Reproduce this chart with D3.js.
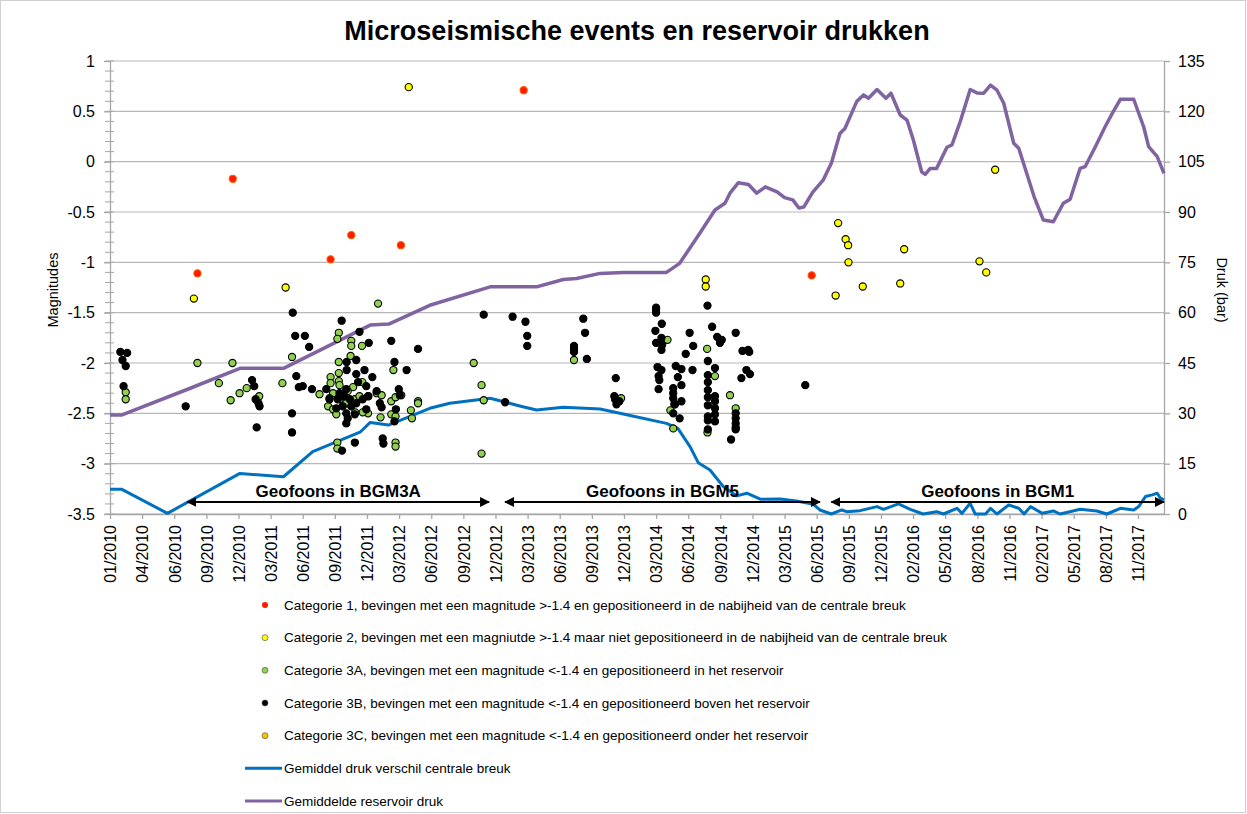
<!DOCTYPE html>
<html lang="nl">
<head>
<meta charset="UTF-8">
<title>Microseismische events en reservoir drukken</title>
<script src="https://cdn.jsdelivr.net/npm/d3@7"></script>
<style>
    body{ margin:0; background:#fff; }
    svg{ font-family:"Liberation Sans", Arial, sans-serif; }
    .as text{ font-size:16px; fill:#000; }
</style>
</head>
<body>
<script type="text/javascript">

// x tick labels (every 90 days from 01-01-2010)
var tickLabels = ["01/2010","04/2010","06/2010","09/2010","12/2010","03/2011","06/2011","09/2011","12/2011",
    "03/2012","06/2012","09/2012","12/2012","03/2013","06/2013","09/2013","12/2013","03/2014","06/2014",
    "09/2014","12/2014","03/2015","06/2015","09/2015","12/2015","02/2016","05/2016","08/2016","11/2016",
    "02/2017","05/2017","08/2017","11/2017"];
var magTicks = [1, 0.5, 0, -0.5, -1, -1.5, -2, -2.5, -3, -3.5];
var drukTicks = [0, 15, 30, 45, 60, 75, 90, 105, 120, 135];

// events: [datum, magnitude]
var cat1 = [["2010-09-03",-1.11],["2010-12-11",-0.17],["2011-09-11",-0.97],["2011-11-08",-0.73],
    ["2012-03-26",-0.83],["2013-03-05",0.71],["2015-05-21",-1.13]];

var cat2 = [["2010-08-24",-1.36],["2011-05-08",-1.25],["2012-04-17",0.74],["2014-07-28",-1.17],["2014-07-28",-1.24],
    ["2015-08-03",-0.61],["2015-08-24",-0.77],["2015-08-31",-0.83],["2015-09-01",-1.0],["2015-07-27",-1.33],
    ["2015-10-11",-1.24],["2016-01-24",-1.21],["2016-02-04",-0.87],["2016-09-02",-0.99],["2016-09-21",-1.10],
    ["2016-10-16",-0.08]];

var cat3A = [["2010-02-14",-2.29],["2010-02-14",-2.36],["2010-09-03",-2.0],["2010-12-10",-2.0],["2010-11-02",-2.2],
    ["2010-12-05",-2.37],["2010-12-30",-2.3],["2011-01-19",-2.25],["2011-02-23",-2.33],["2011-04-29",-2.2],
    ["2011-05-26",-1.94],["2011-10-04",-1.7],["2011-09-30",-1.76],["2011-11-08",-1.78],["2011-11-08",-1.83],
    ["2011-12-08",-1.83],["2012-01-22",-1.41],["2012-03-05",-2.07],
    ["2011-10-04",-1.99],["2011-10-04",-2.10],["2011-09-11",-2.14],["2011-10-04",-2.18],["2011-10-06",-2.22],
    ["2011-09-11",-2.2],["2011-11-06",-1.93],["2011-12-09",-2.19],["2011-11-13",-2.24],["2011-10-29",-2.28],
    ["2011-09-18",-2.3],["2011-08-11",-2.31],["2011-09-04",-2.43],["2011-09-08",-2.35],["2011-09-18",-2.46],
    ["2011-09-27",-2.51],["2011-10-06",-2.36],["2011-10-25",-2.4],["2011-11-18",-2.36],["2011-12-01",-2.33],
    ["2011-12-26",-2.33],["2012-01-18",-2.3],["2012-02-01",-2.32],["2011-12-25",-2.5],["2011-12-10",-2.49],
    ["2011-11-19",-2.49],["2012-01-29",-2.54],["2012-02-28",-2.38],["2012-03-11",-2.34],["2012-03-27",-2.32],
    ["2012-02-28",-2.51],["2012-03-11",-2.53],["2012-03-11",-2.79],["2012-03-11",-2.83],["2012-04-23",-2.47],
    ["2012-04-26",-2.55],["2012-05-13",-2.38],["2012-05-13",-2.4],["2011-09-30",-2.79],["2011-09-30",-2.85],
    ["2012-10-16",-2.0],["2012-11-07",-2.22],["2012-11-13",-2.37],["2012-11-07",-2.9],["2013-07-24",-1.97],
    ["2013-12-03",-2.35],["2014-04-12",-1.77],["2014-05-01",-2.41],["2014-04-20",-2.47],["2014-04-28",-2.65],
    ["2014-08-01",-1.86],["2014-08-23",-2.13],["2014-08-02",-2.69],["2014-10-04",-2.32],["2014-10-20",-2.45]];

var cat3B = [["2010-01-30",-1.89],["2010-02-18",-1.90],["2010-02-05",-1.97],["2010-02-14",-2.03],["2010-02-08",-2.23],
    ["2010-08-01",-2.43],["2011-02-03",-2.17],["2011-02-09",-2.23],["2011-02-13",-2.36],["2011-02-21",-2.40],
    ["2011-02-24",-2.43],["2011-02-16",-2.64],["2011-05-28",-1.50],["2011-06-04",-1.73],["2011-07-01",-1.73],
    ["2011-07-13",-1.84],["2011-06-07",-2.13],["2011-06-14",-2.24],["2011-06-25",-2.23],["2011-05-26",-2.50],
    ["2011-05-26",-2.69],["2011-07-21",-2.26],["2011-10-12",-1.58],["2011-12-01",-1.69],["2011-12-27",-1.80],
    ["2012-02-28",-1.78],["2012-05-13",-1.86],["2012-03-08",-1.99],["2012-04-11",-2.07],
    ["2011-10-26",-1.99],["2011-11-22",-1.97],["2011-10-26",-2.07],["2011-11-22",-2.11],["2011-12-15",-2.07],
    ["2012-01-06",-2.14],["2011-12-20",-2.23],["2011-11-27",-2.19],["2011-10-25",-2.26],["2011-10-06",-2.30],
    ["2011-08-30",-2.26],["2011-09-08",-2.36],["2011-10-01",-2.36],["2011-10-20",-2.33],["2011-11-04",-2.36],
    ["2011-11-22",-2.40],["2011-12-10",-2.36],["2011-12-25",-2.33],["2012-01-18",-2.28],["2012-01-27",-2.40],
    ["2012-02-01",-2.44],["2011-11-08",-2.43],["2011-10-15",-2.43],["2011-09-27",-2.45],["2011-10-25",-2.50],
    ["2011-10-29",-2.55],["2011-10-25",-2.60],["2011-11-18",-2.79],["2011-10-13",-2.87],["2012-02-04",-2.75],
    ["2012-02-06",-2.80],["2012-03-20",-2.26],["2012-03-23",-2.32],["2012-03-12",-2.46],["2012-03-08",-2.58],
    ["2011-11-18",-2.51],["2011-12-20",-2.46],
    ["2012-11-13",-1.52],["2013-01-12",-2.39],["2013-02-02",-1.54],["2013-03-10",-1.59],["2013-03-15",-1.73],
    ["2013-03-15",-1.83],["2013-08-19",-1.56],["2013-08-24",-1.70],["2013-07-24",-1.83],["2013-07-24",-1.86],
    ["2013-07-24",-1.89],["2013-08-29",-1.96],["2013-11-18",-2.15],["2013-11-14",-2.33],["2013-11-16",-2.36],
    ["2013-11-20",-2.41],["2013-11-28",-2.38],
    ["2014-03-11",-1.45],["2014-03-11",-1.47],["2014-03-11",-1.50],["2014-03-27",-1.61],["2014-03-09",-1.68],
    ["2014-03-26",-1.75],["2014-03-11",-1.80],["2014-03-28",-1.82],["2014-03-26",-1.87],["2014-03-15",-2.04],
    ["2014-03-26",-2.07],["2014-03-18",-2.13],["2014-03-20",-2.17],["2014-03-18",-2.26],
    ["2014-05-05",-2.03],["2014-05-21",-2.06],["2014-04-28",-2.25],["2014-04-28",-2.30],["2014-04-28",-2.35],
    ["2014-04-28",-2.50],["2014-05-03",-2.41],["2014-05-16",-2.55],["2014-05-11",-2.14],["2014-05-21",-2.22],
    ["2014-05-21",-2.38],["2014-06-13",-1.70],["2014-06-23",-1.83],["2014-06-02",-1.91],["2014-06-21",-2.07],
    ["2014-08-02",-1.43],["2014-08-15",-1.64],["2014-08-03",-1.98],["2014-08-03",-2.12],["2014-08-03",-2.19],
    ["2014-08-03",-2.27],["2014-08-03",-2.34],["2014-08-03",-2.42],["2014-08-03",-2.53],["2014-08-03",-2.57],
    ["2014-08-03",-2.66],["2014-08-23",-2.05],["2014-08-23",-2.33],["2014-08-23",-2.38],["2014-08-23",-2.45],
    ["2014-08-23",-2.51],["2014-08-23",-2.58],["2014-08-29",-1.74],["2014-09-11",-1.77],["2014-09-06",-1.80],
    ["2014-10-20",-1.70],["2014-11-08",-1.88],["2014-11-24",-1.87],["2014-11-27",-1.89],["2014-11-19",-2.07],
    ["2014-11-29",-2.11],["2014-11-05",-2.15],["2014-10-20",-2.50],["2014-10-20",-2.55],["2014-10-20",-2.60],
    ["2014-10-20",-2.64],["2014-10-20",-2.66],["2014-10-07",-2.76],["2015-05-03",-2.22]];

var cat3C = [];

// drukken: [datum, bar]
var breukDruk = [["2010-01-01",7.4],["2010-02-02",7.4],["2010-06-11",0.2],["2010-12-31",12.1],["2011-05-02",11.1],
    ["2011-07-23",18.6],["2011-12-04",24.5],["2011-12-31",27.3],["2012-02-20",26.5],["2012-06-15",31.5],
    ["2012-08-10",33.0],["2012-12-01",34.5],["2013-02-22",32.2],["2013-04-10",31.0],["2013-06-24",31.8],
    ["2013-10-05",31.3],["2013-12-09",29.8],["2014-04-09",27.0],["2014-05-11",25.5],["2014-06-14",20.1],
    ["2014-07-07",15.3],["2014-08-09",13.1],["2014-09-16",8.1],["2014-10-23",5.4],["2014-11-20",6.2],
    ["2014-12-28",4.4],["2015-02-22",4.5],["2015-04-08",3.9],["2015-05-24",3.0],["2015-06-13",1.2],
    ["2015-07-15",0],["2015-08-13",1.2],["2015-08-27",0.7],["2015-10-03",1.0],["2015-11-20",2.2],
    ["2015-12-08",1.4],["2016-01-19",3.0],["2016-02-21",1.4],["2016-03-28",0],["2016-05-05",0.7],
    ["2016-05-24",0],["2016-07-01",1.7],["2016-07-15",0.2],["2016-08-07",3.2],["2016-08-21",0],
    ["2016-09-19",0],["2016-10-03",1.7],["2016-10-21",0],["2016-11-23",2.7],["2016-12-21",1.7],
    ["2017-01-05",0],["2017-01-23",2.2],["2017-02-25",0.2],["2017-03-28",0.9],["2017-04-16",0],
    ["2017-06-11",1.4],["2017-07-28",0.9],["2017-08-25",0],["2017-10-02",1.7],["2017-11-08",1.2],
    ["2017-11-22",2.2],["2017-12-11",5.2],["2017-12-30",5.7],["2018-01-13",6.2],["2018-01-22",4.7],
    ["2018-02-01",4.2]];

var reservoirDruk = [["2010-01-01",29.5],["2010-02-02",29.5],["2010-08-12",37.4],["2010-12-31",43.4],
    ["2011-05-02",43.4],["2011-12-31",56.3],["2012-02-21",56.6],["2012-06-15",62.2],["2012-12-01",67.7],
    ["2013-04-10",67.7],["2013-06-24",69.9],["2013-07-31",70.2],["2013-10-05",71.7],["2013-12-09",72.0],
    ["2014-04-09",72.0],["2014-05-16",74.7],["2014-07-11",83.6],["2014-08-23",90.6],["2014-09-20",92.6],
    ["2014-10-04",95.6],["2014-10-27",98.7],["2014-11-25",98.2],["2014-12-18",95.6],["2015-01-11",97.5],
    ["2015-02-13",96.0],["2015-03-06",94.3],["2015-03-29",93.6],["2015-04-15",91.2],["2015-04-29",91.5],
    ["2015-05-24",95.9],["2015-06-22",99.5],["2015-07-15",104.5],["2015-08-08",113.4],["2015-08-22",114.9],
    ["2015-09-24",122.9],["2015-10-13",124.9],["2015-10-27",123.9],["2015-11-20",126.5],["2015-12-15",123.9],
    ["2015-12-29",125.4],["2016-01-24",118.9],["2016-02-12",117.4],["2016-03-01",111.4],["2016-03-24",102.0],
    ["2016-04-03",101.2],["2016-04-17",103.0],["2016-05-05",103.0],["2016-06-03",109.3],["2016-06-17",110.0],
    ["2016-07-10",116.9],["2016-08-07",126.5],["2016-08-26",125.5],["2016-09-14",125.4],["2016-10-03",127.8],
    ["2016-10-21",126.3],["2016-11-09",122.4],["2016-12-07",110.5],["2016-12-21",109.0],["2017-02-02",94.6],
    ["2017-02-28",87.6],["2017-03-28",87.1],["2017-04-25",92.6],["2017-05-14",93.8],["2017-06-11",103.0],
    ["2017-06-25",103.5],["2017-07-23",109.3],["2017-08-20",115.4],["2017-09-09",119.4],["2017-10-02",123.6],
    ["2017-11-08",123.6],["2017-12-06",115.4],["2017-12-20",109.5],["2018-01-13",106.5],["2018-02-01",101.5]];

// geofoon periodes
var periodLabels = ["Geofoons in BGM3A", "Geofoons in BGM5", "Geofoons in BGM1"];
var periodStart = ["2010-08-06", "2013-01-12", "2015-07-15"];
var periodEnd = ["2012-11-28", "2015-06-13", "2018-02-01"];

var legendLabels = [
    "Categorie 1, bevingen met een magnitude >-1.4 en gepositioneerd in de nabijheid van de centrale breuk",
    "Categorie 2, bevingen met een magniutde >-1.4 maar niet gepositioneerd in de nabijheid van de centrale breuk",
    "Categorie 3A, bevingen met een magnitude <-1.4 en gepositioneerd in het reservoir",
    "Categorie 3B, bevingen met een magnitude <-1.4 en gepositioneerd boven het reservoir",
    "Categorie 3C, bevingen met een magnitude <-1.4 en gepositioneerd onder het reservoir",
    "Gemiddel druk verschil centrale breuk",
    "Gemiddelde reservoir druk"];

//------------------------------------------------------------
var w = 1247, h = 814;
var plotLeft = 110, plotRight = 1164, plotTop = 61, plotBottom = 514;
var parse = d3.timeParse("%Y-%m-%d");
var xStart = parse("2010-01-01");

var xScale = d3.scaleTime()
    .domain([xStart, parse("2018-02-01")])
    .range([plotLeft, plotRight]);
var yScale = d3.scaleLinear().domain([-3.5, 1]).range([plotBottom, plotTop]);
var y2Scale = d3.scaleLinear().domain([0, 135]).range([plotBottom, plotTop]);

var svg = d3.select("body").append("svg")
    .attr("width", w)
    .attr("height", h);

svg.append("rect")
    .attr("x", 0.5).attr("y", 0.5)
    .attr("width", w - 2).attr("height", h - 2)
    .attr("fill", "#fff")
    .attr("stroke", "#d0d0d0");

// title
svg.append("text")
    .attr("x", 637).attr("y", 40)
    .attr("text-anchor", "middle")
    .attr("font-size", "27px")
    .attr("font-weight", "bold")
    .text("Microseismische events en reservoir drukken");

// gridlines
svg.append("g").selectAll("line")
    .data(magTicks)
    .enter().append("line")
    .attr("x1", plotLeft).attr("x2", plotRight)
    .attr("y1", function(d){ return yScale(d); })
    .attr("y2", function(d){ return yScale(d); })
    .attr("stroke", "#b8b8b8")
    .attr("stroke-width", 1.1);

// minor ticks left
svg.append("g").selectAll("line")
    .data(d3.range(-35, 11).map(function(d){ return d / 10; }))
    .enter().append("line")
    .attr("x1", plotLeft - 5).attr("x2", plotLeft + 4)
    .attr("y1", function(d){ return yScale(d); })
    .attr("y2", function(d){ return yScale(d); })
    .attr("stroke", "#a6a6a6");

// axes
var yAxis = d3.axisLeft(yScale)
    .tickValues(magTicks)
    .tickFormat(function(d){ return String(d); })
    .tickSize(6).tickSizeOuter(0).tickPadding(9);
var gy = svg.append("g").attr("class", "as")
    .attr("transform", "translate(" + plotLeft + ",0)")
    .call(yAxis);

var y2Axis = d3.axisRight(y2Scale)
    .tickValues(drukTicks)
    .tickSize(6).tickSizeOuter(0).tickPadding(8);
var gy2 = svg.append("g").attr("class", "as")
    .attr("transform", "translate(" + plotRight + ",0)")
    .call(y2Axis);

var tickDates = tickLabels.map(function(d, i){ return d3.timeDay.offset(xStart, i * 90); });
var xAxis = d3.axisBottom(xScale)
    .tickValues(tickDates)
    .tickFormat(function(d, i){ return tickLabels[i]; })
    .tickSize(5).tickSizeOuter(0);
var gx = svg.append("g").attr("class", "as")
    .attr("transform", "translate(0," + plotBottom + ")")
    .call(xAxis);
gx.selectAll("text")
    .attr("transform", "rotate(-90)")
    .attr("text-anchor", "end")
    .attr("x", -11).attr("y", 0)
    .attr("dy", "0.36em");

[gy, gy2, gx].forEach(function(g){
    g.selectAll("path, line").attr("stroke", "#a6a6a6").attr("stroke-width", 1.3);
});

// axis titles
svg.append("text")
    .attr("transform", "translate(58,290) rotate(-90)")
    .attr("text-anchor", "middle")
    .attr("font-size", "14.5px")
    .text("Magnitudes");
svg.append("text")
    .attr("transform", "translate(1217,290) rotate(90)")
    .attr("text-anchor", "middle")
    .attr("font-size", "14.5px")
    .text("Druk (bar)");

// druk lines
var line = d3.line()
    .x(function(d){ return xScale(parse(d[0])); })
    .y(function(d){ return y2Scale(d[1]); });

svg.append("path")
    .datum(breukDruk)
    .attr("d", line)
    .attr("fill", "none")
    .attr("stroke", "#0070c0")
    .attr("stroke-width", 3)
    .attr("stroke-linejoin", "round");

svg.append("path")
    .datum(reservoirDruk)
    .attr("d", line)
    .attr("fill", "none")
    .attr("stroke", "#8064a2")
    .attr("stroke-width", 3.5)
    .attr("stroke-linejoin", "round");

// events
var series = [
    {data: cat3A, fill: "#92d050", stroke: "#000"},
    {data: cat3B, fill: "#000", stroke: "#000"},
    {data: cat3C, fill: "#ffc000", stroke: "#000"},
    {data: cat2, fill: "#ffff00", stroke: "#000"},
    {data: cat1, fill: "#ff1a00", stroke: "#ff5a00"}
];
series.forEach(function(s){
    svg.append("g").selectAll("circle")
        .data(s.data)
        .enter().append("circle")
        .attr("cx", function(d){ return xScale(parse(d[0])); })
        .attr("cy", function(d){ return yScale(d[1]); })
        .attr("r", 3.6)
        .attr("fill", s.fill)
        .attr("stroke", s.stroke)
        .attr("stroke-width", 1.1);
});

// geofoon arrows
var defs = svg.append("defs");
defs.append("marker")
    .attr("id", "pijl")
    .attr("viewBox", "0 0 10 10")
    .attr("refX", 9).attr("refY", 5)
    .attr("markerWidth", 5).attr("markerHeight", 5)
    .attr("markerUnits", "strokeWidth")
    .attr("orient", "auto-start-reverse")
    .append("path")
    .attr("d", "M0,0 L10,5 L0,10 z")
    .attr("fill", "#000");

var arrowY = plotBottom - 12;
periodLabels.forEach(function(lbl, i){
    var xa = xScale(parse(periodStart[i])), xb = xScale(parse(periodEnd[i]));
    svg.append("line")
        .attr("x1", xa).attr("x2", xb)
        .attr("y1", arrowY).attr("y2", arrowY)
        .attr("stroke", "#000")
        .attr("stroke-width", 2)
        .attr("marker-start", "url(#pijl)")
        .attr("marker-end", "url(#pijl)");
    svg.append("text")
        .attr("x", (xa + xb) / 2).attr("y", arrowY - 5)
        .attr("text-anchor", "middle")
        .attr("font-size", "17px")
        .attr("font-weight", "bold")
        .text(lbl);
});

// legend
var legendColors = ["#ff1a00", "#ffff00", "#92d050", "#000", "#ffc000", "#0070c0", "#8064a2"];
var legendY = d3.scaleLinear().domain([0, 6]).range([605, 801]);
var leg = svg.append("g");
legendLabels.forEach(function(lbl, i){
    var y = legendY(i);
    if (i < 5) {
        leg.append("circle")
            .attr("cx", 265).attr("cy", y)
            .attr("r", 3)
            .attr("fill", legendColors[i])
            .attr("stroke", i === 0 ? "none" : "#444")
            .attr("stroke-width", 0.6);
    } else {
        leg.append("line")
            .attr("x1", 245).attr("x2", 282)
            .attr("y1", y).attr("y2", y)
            .attr("stroke", legendColors[i])
            .attr("stroke-width", 3);
    }
    leg.append("text")
        .attr("x", 284).attr("y", y)
        .attr("dy", "0.35em")
        .attr("font-size", "13.5px")
        .text(lbl);
});

</script>
</body>
</html>
